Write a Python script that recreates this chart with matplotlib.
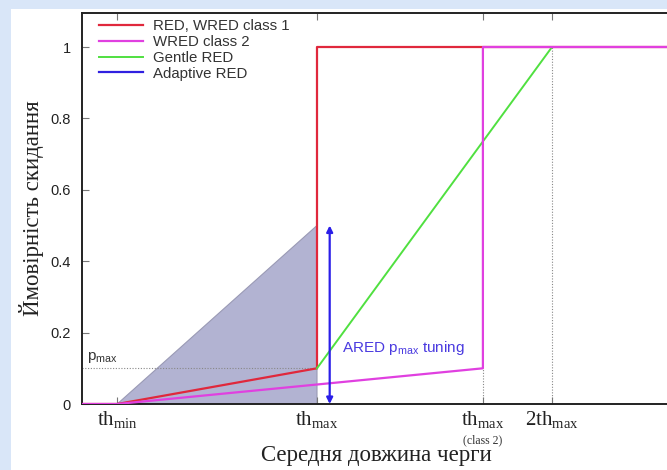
import matplotlib
matplotlib.use("Agg")
import matplotlib.pyplot as plt
from matplotlib.patches import Rectangle, Polygon

# Data (x in units of th_max)
th_min = 0.15
th_max = 1.0
th_max_c2 = 1.706
two_th_max = 2.0
p_max = 0.1
x_end = 2.5

red_x = [0, th_min, th_max, th_max, x_end]
red_y = [0, 0, p_max, 1.0, 1.0]
wred2_x = [0, th_min, th_max_c2, th_max_c2, x_end]
wred2_y = [0, 0, p_max, 1.0, 1.0]
gentle_x = [th_max, two_th_max, x_end]
gentle_y = [p_max, 1.0, 1.0]
ared_x = 1.054
ared_range = [0.0, 0.5]
shade_x = [th_min, th_max, th_max]
shade_y = [0.0, 0.5, 0.0]

yticks = [0, 0.2, 0.4, 0.6, 0.8, 1]
ytick_labels = ["0", "0.2", "0.4", "0.6", "0.8", "1"]
xticks = [th_min, th_max, th_max_c2, two_th_max]

SANS = "Liberation Sans"
SERIF = "Liberation Serif"

W, H = 667, 470
fig = plt.figure(figsize=(W / 100, H / 100), dpi=100)
fig.patch.set_facecolor("#d9e6f8")
fig.patches.append(Rectangle((11 / W, 0), 1, (H - 9) / H, transform=fig.transFigure,
                             facecolor="white", edgecolor="none", zorder=-10))

left, right, top, bottom = 82, 670, 12.5, 404
ax = fig.add_axes([left / W, 1 - bottom / H, (right - left) / W, (bottom - top) / H])
ax.set_zorder(1)
ax.patch.set_alpha(0)
ax.set_xlim(0, (right - left) / 235.0)
ax.set_ylim(0, (bottom - top) / 357.0)

# shaded area
ax.add_patch(Polygon(list(zip(shade_x, shade_y)), closed=True, facecolor="#b2b3d2",
                     edgecolor="#9a9ab5", lw=0.8, zorder=1))

# guide dotted lines
dot = dict(color="#888888", lw=0.8, ls=(0, (1, 1.5)), zorder=1.5)
ax.plot([0, th_max], [p_max, p_max], **dot)
ax.plot([th_max_c2, th_max_c2], [0, p_max], **dot)
ax.plot([two_th_max, two_th_max], [0, 1.0], **dot)

ax.plot(red_x, red_y, color="#e0283c", lw=1.6, label="RED, WRED class 1", zorder=3)
ax.plot(wred2_x, wred2_y, color="#e040e0", lw=1.6, label="WRED class 2", zorder=3.2)
ax.plot(gentle_x, gentle_y, color="#50e040", lw=1.4, label="Gentle RED", zorder=3.1)
ax.plot([], [], color="#3020e0", lw=1.6, label="Adaptive RED")

ax.annotate("", xy=(ared_x, ared_range[0]), xytext=(ared_x, ared_range[1]),
            arrowprops=dict(arrowstyle="<|-|>", color="#2a1ee8", lw=1.6,
                            mutation_scale=9, shrinkA=0, shrinkB=0), zorder=4)
ax.text(1.106, 0.133, r"ARED p$_{\mathregular{max}}$ tuning", color="#4a3ae0",
        fontsize=11, fontfamily=SANS, va="bottom", ha="left")
ax.text(0.02, 0.108, r"p$_{\mathregular{max}}$", color="#333333", fontsize=11,
        fontfamily=SANS, va="bottom", ha="left")

ax.set_yticks(yticks)
ax.set_yticklabels(ytick_labels, fontfamily=SANS, fontsize=10.5)
ax.set_xticks(xticks)
ax.set_xticklabels([r"th$_{\mathregular{min}}$", r"th$_{\mathregular{max}}$",
                    r"th$_{\mathregular{max}}$", r"2th$_{\mathregular{max}}$"],
                   fontfamily=SERIF, fontsize=15)
ax.text(th_max_c2, -0.085, "(class 2)", fontfamily=SERIF, fontsize=8.5,
        ha="center", va="top", color="#333333")
ax.tick_params(axis="both", direction="in", length=5, width=0.8, color="#777777",
               top=True, labelcolor="#222222")
ax.tick_params(axis="y", pad=8)
ax.tick_params(axis="x", pad=4)
for s in ["left", "bottom", "top"]:
    ax.spines[s].set_linewidth(1.4)
    ax.spines[s].set_color("#222222")
ax.spines["right"].set_visible(False)

ax.set_xlabel("Середня довжина черги", fontfamily=SERIF, fontsize=16.5,
              color="#222222", labelpad=10)
ax.set_ylabel("Ймовірність скидання", fontfamily=SERIF, fontsize=16.5,
              color="#222222", labelpad=5)

leg = ax.legend(loc="upper left", frameon=False, prop={"family": SANS, "size": 10.8},
                handlelength=2.9, labelspacing=0.12, borderaxespad=0.3,
                borderpad=0.15, handletextpad=0.7)
for t in leg.get_texts():
    t.set_color("#333333")
leg.set_bbox_to_anchor((0.018, 1.0), transform=ax.transAxes)

fig.savefig("out.png", dpi=100, facecolor=fig.get_facecolor())
